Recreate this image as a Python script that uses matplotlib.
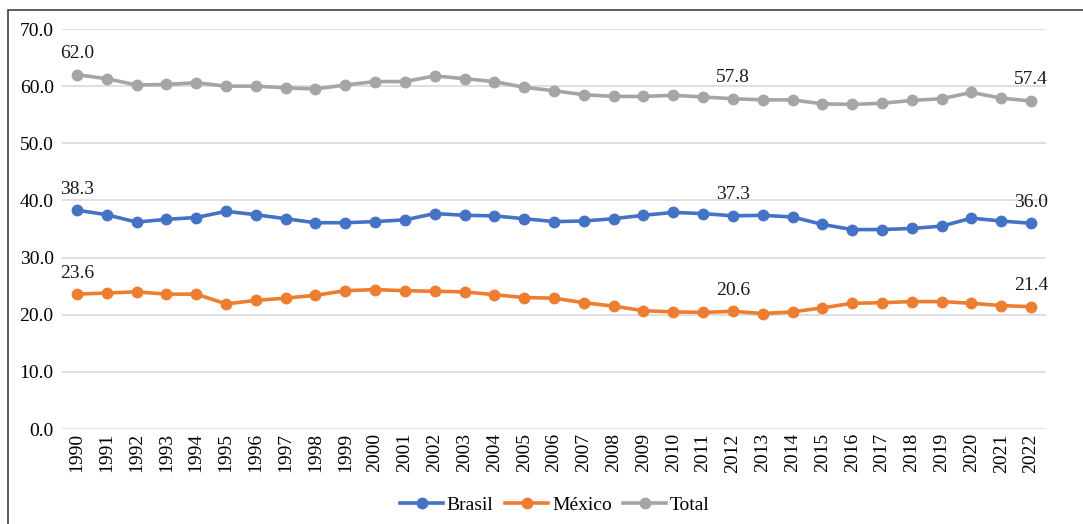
import numpy as np
import matplotlib
matplotlib.use("Agg")
import matplotlib.pyplot as plt
from matplotlib.patches import Rectangle

years = [str(y) for y in range(1990, 2023)]

brasil = [38.3, 37.5, 36.2, 36.7, 37.0, 38.1, 37.5, 36.8, 36.1, 36.1,
          36.3, 36.6, 37.7, 37.4, 37.3, 36.8, 36.3, 36.4, 36.8, 37.4,
          37.9, 37.7, 37.3, 37.4, 37.1, 35.8, 34.9, 34.9, 35.1, 35.5,
          36.9, 36.4, 36.0]
mexico = [23.6, 23.8, 24.0, 23.6, 23.6, 21.9, 22.5, 22.9, 23.4, 24.2,
          24.4, 24.2, 24.1, 24.0, 23.5, 23.0, 22.9, 22.1, 21.5, 20.7,
          20.5, 20.4, 20.6, 20.2, 20.5, 21.2, 22.0, 22.1, 22.3, 22.3,
          22.0, 21.6, 21.4]
total = [62.0, 61.3, 60.2, 60.3, 60.6, 60.0, 60.0, 59.7, 59.5, 60.2,
         60.8, 60.8, 61.8, 61.3, 60.8, 59.8, 59.2, 58.5, 58.2, 58.2,
         58.4, 58.1, 57.8, 57.6, 57.6, 56.9, 56.8, 57.0, 57.5, 57.8,
         58.9, 57.9, 57.4]

series = [("Brasil", brasil, "#4472C4"),
          ("México", mexico, "#ED7D31"),
          ("Total", total, "#A5A5A5")]
label_idx = [0, 22, 32]

plt.rcParams['font.family'] = ['Liberation Serif', 'DejaVu Serif']
fs = 14

W, H = 1083, 524
fig = plt.figure(figsize=(W / 100, H / 100), dpi=100)
# outer frame of the chart box
fig.patches.append(Rectangle((8 / W, -0.1), 1.2, 1 - 10 / H + 0.1,
                             transform=fig.transFigure, fill=False,
                             edgecolor="#404040", linewidth=1.2))

ax = fig.add_axes([62 / W, 1 - 429 / H, (1046 - 62) / W, 400 / H])
x = np.arange(len(years))
for name, vals, col in series:
    ax.plot(x, vals, color=col, linewidth=2.6, marker="o", markersize=7.5,
            label=name, zorder=3)
    for i in label_idx:
        ax.annotate(f"{vals[i]:.1f}", (x[i], vals[i]), xytext=(0, 9),
                    textcoords="offset points", ha="center", va="bottom",
                    fontsize=fs, color="#1a1a1a")

ax.set_xlim(-0.5, len(years) - 0.5)
ax.set_ylim(0, 70)
ax.set_yticks(np.arange(0, 71, 10))
ax.set_yticklabels([f"{v:.1f}" for v in np.arange(0, 71, 10)], fontsize=fs)
ax.set_xticks(x)
ax.set_xticklabels(years, rotation=90, fontsize=fs)
ax.tick_params(length=0, pad=6)
ax.tick_params(axis="x", pad=3)
ax.grid(axis="y", color="#D9D9D9", linewidth=1.2)
ax.set_axisbelow(True)
for s in ax.spines.values():
    s.set_visible(False)

fig.legend(loc="center", bbox_to_anchor=(555 / W, 1 - 505 / H), ncol=3,
           frameon=False, fontsize=fs, handlelength=2.2, handletextpad=0.2,
           columnspacing=0.6)

fig.savefig("out.png", dpi=100)
